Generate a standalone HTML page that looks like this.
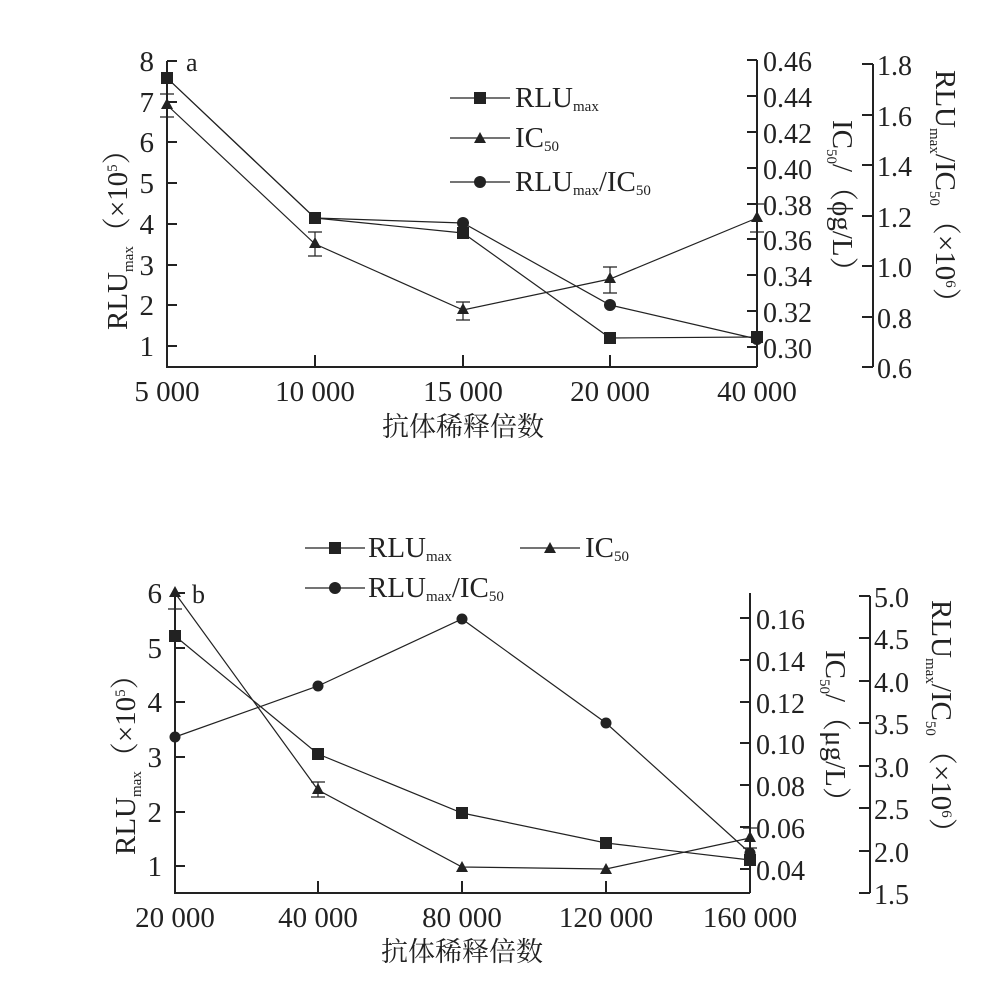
<!DOCTYPE html><html><head><meta charset="utf-8"><style>body{margin:0;background:#fff}svg{display:block}text{font-family:"Liberation Serif","Noto Serif CJK SC",serif;fill:#222}</style></head><body>
<svg width="988" height="995" viewBox="0 0 988 995" stroke="#222" fill="none">
<!-- Panel a -->
<g stroke-width="2">
<path d="M167 61V367H757M757 60V367M873 64V367"/>
<path d="M167 61h10M167 102h10M167 142h10M167 183h10M167 224h10M167 265h10M167 305h10M167 346h10"/>
<path d="M315 367v-12M463 367v-12M610 367v-12"/>
<path d="M757 60h-10M757 96h-10M757 132h-10M757 168h-10M757 204h-10M757 239h-10M757 275h-10M757 311h-10M757 347h-10"/>
<path d="M873 64h-11M873 115h-11M873 165h-11M873 216h-11M873 266h-11M873 317h-11M873 367h-11"/>
</g>
<g stroke-width="1.2">
<polyline points="167,78 315,218 463,233 610,338 757,337"/>
<polyline points="167,105 315,244 463,310 610,279 757,218"/>
<polyline points="167,78 315,218 463,223 610,305 757,339"/>
<path d="M160 94h14M160 117h14M167 94v23M308 232h14M308 256h14M315 232v24M456 302h14M456 320h14M463 302v18M603 267h14M603 293h14M610 267v26M750 204h14M750 232h14"/>
<path d="M450 98h60M450 138h60M450 182h60"/>
</g>
<g fill="#222" stroke="none">
<rect x="161" y="72" width="12" height="12"/><rect x="309" y="212" width="12" height="12"/><rect x="457" y="227" width="12" height="12"/><rect x="604" y="332" width="12" height="12"/><rect x="751" y="331" width="12" height="12"/>
<circle cx="167" cy="78" r="6"/><circle cx="315" cy="218" r="6"/><circle cx="463" cy="223" r="6"/><circle cx="610" cy="305" r="6"/><circle cx="757" cy="339" r="6"/>
<path d="M167 98l6 11h-12zM315 237l6 11h-12zM463 303l6 11h-12zM610 272l6 11h-12zM757 211l6 11h-12z"/>
<rect x="474" y="92" width="12" height="12"/><path d="M480 132l6 11h-12z"/><circle cx="480" cy="182" r="6"/>
</g>
<g font-size="29" stroke="none">
<text x="154" y="71" text-anchor="end">8</text><text x="154" y="112" text-anchor="end">7</text><text x="154" y="152" text-anchor="end">6</text><text x="154" y="193" text-anchor="end">5</text><text x="154" y="234" text-anchor="end">4</text><text x="154" y="275" text-anchor="end">3</text><text x="154" y="315" text-anchor="end">2</text><text x="154" y="356" text-anchor="end">1</text>
<text x="186" y="71" font-size="26">a</text>
<text x="167" y="401" text-anchor="middle">5 000</text><text x="315" y="401" text-anchor="middle">10 000</text><text x="463" y="401" text-anchor="middle">15 000</text><text x="610" y="401" text-anchor="middle">20 000</text><text x="757" y="401" text-anchor="middle">40 000</text>
<text x="463" y="436" text-anchor="middle" font-size="27">抗体稀释倍数</text>
<g font-size="28"><text x="763" y="71">0.46</text><text x="763" y="107">0.44</text><text x="763" y="143">0.42</text><text x="763" y="179">0.40</text><text x="763" y="215">0.38</text><text x="763" y="250">0.36</text><text x="763" y="286">0.34</text><text x="763" y="322">0.32</text><text x="763" y="358">0.30</text></g>
<g font-size="28"><text x="877" y="75">1.8</text><text x="877" y="126">1.6</text><text x="877" y="176">1.4</text><text x="877" y="227">1.2</text><text x="877" y="277">1.0</text><text x="877" y="328">0.8</text><text x="877" y="378">0.6</text></g>
<text x="515" y="107">RLU<tspan font-size="15" dy="4">max</tspan></text>
<text x="515" y="147">IC<tspan font-size="15" dy="4">50</tspan></text>
<text x="515" y="191">RLU<tspan font-size="15" dy="4">max</tspan><tspan dy="-4">/IC</tspan><tspan font-size="15" dy="4">50</tspan></text>
<text transform="translate(127,330) rotate(-90)">RLU<tspan font-size="15" dy="6">max</tspan><tspan dy="-6">（×10</tspan><tspan font-size="15" dy="-10">5</tspan><tspan dy="10">）</tspan></text>
<text transform="translate(833,120) rotate(90)">IC<tspan font-size="15" dy="6">50</tspan><tspan dy="-6">/（ϕg/L）</tspan></text>
<text transform="translate(936,70) rotate(90)">RLU<tspan font-size="15" dy="6">max</tspan><tspan dy="-6">/IC</tspan><tspan font-size="15" dy="6">50</tspan><tspan dy="-6">（×10</tspan><tspan font-size="15" dy="-10">6</tspan><tspan dy="10">）</tspan></text>
</g>
<!-- Panel b -->
<g stroke-width="2">
<path d="M175 593V893H750M750 593V893M870 596V893"/>
<path d="M175 593h10M175 648h10M175 702h10M175 757h10M175 812h10M175 866h10"/>
<path d="M318 893v-12M462 893v-12M606 893v-12"/>
<path d="M750 618h-10M750 660h-10M750 702h-10M750 743h-10M750 785h-10M750 827h-10M750 869h-10"/>
<path d="M870 596h-11M870 638h-11M870 681h-11M870 723h-11M870 766h-11M870 808h-11M870 851h-11M870 893h-11"/>
</g>
<g stroke-width="1.2">
<polyline points="175,636 318,754 462,813 606,843 750,860"/>
<polyline points="175,593 318,790 462,867 606,869 750,838"/>
<polyline points="175,737 318,686 462,619 606,723 750,853"/>
<path d="M168 609h14M175 609v-2M311 782h14M311 797h14M318 782v15M743 828h14M743 848h14M750 828v20"/>
<path d="M305 548h60M520 548h60M305 588h60"/>
</g>
<g fill="#222" stroke="none">
<rect x="169" y="630" width="12" height="12"/><rect x="312" y="748" width="12" height="12"/><rect x="456" y="807" width="12" height="12"/><rect x="600" y="837" width="12" height="12"/><rect x="744" y="854" width="12" height="12"/>
<circle cx="175" cy="737" r="5.5"/><circle cx="318" cy="686" r="5.5"/><circle cx="462" cy="619" r="5.5"/><circle cx="606" cy="723" r="5.5"/><circle cx="750" cy="853" r="5.5"/>
<path d="M175 586l6 11h-12zM318 783l6 11h-12zM462 861l6 11h-12zM606 863l6 11h-12zM750 831l6 11h-12z"/>
<rect x="329" y="542" width="12" height="12"/><path d="M550 542l6 11h-12z"/><circle cx="335" cy="588" r="6"/>
</g>
<g font-size="29" stroke="none">
<text x="162" y="603" text-anchor="end">6</text><text x="162" y="658" text-anchor="end">5</text><text x="162" y="712" text-anchor="end">4</text><text x="162" y="767" text-anchor="end">3</text><text x="162" y="822" text-anchor="end">2</text><text x="162" y="876" text-anchor="end">1</text>
<text x="192" y="603" font-size="26">b</text>
<text x="175" y="927" text-anchor="middle">20 000</text><text x="318" y="927" text-anchor="middle">40 000</text><text x="462" y="927" text-anchor="middle">80 000</text><text x="606" y="927" text-anchor="middle">120 000</text><text x="750" y="927" text-anchor="middle">160 000</text>
<text x="462" y="961" text-anchor="middle" font-size="27">抗体稀释倍数</text>
<g font-size="28"><text x="756" y="629">0.16</text><text x="756" y="671">0.14</text><text x="756" y="713">0.12</text><text x="756" y="754">0.10</text><text x="756" y="796">0.08</text><text x="756" y="838">0.06</text><text x="756" y="880">0.04</text></g>
<g font-size="28"><text x="874" y="607">5.0</text><text x="874" y="649">4.5</text><text x="874" y="692">4.0</text><text x="874" y="734">3.5</text><text x="874" y="777">3.0</text><text x="874" y="819">2.5</text><text x="874" y="862">2.0</text><text x="874" y="904">1.5</text></g>
<text x="368" y="557">RLU<tspan font-size="15" dy="4">max</tspan></text>
<text x="585" y="557">IC<tspan font-size="15" dy="4">50</tspan></text>
<text x="368" y="597">RLU<tspan font-size="15" dy="4">max</tspan><tspan dy="-4">/IC</tspan><tspan font-size="15" dy="4">50</tspan></text>
<text transform="translate(135,855) rotate(-90)">RLU<tspan font-size="15" dy="6">max</tspan><tspan dy="-6">（×10</tspan><tspan font-size="15" dy="-10">5</tspan><tspan dy="10">）</tspan></text>
<text transform="translate(826,650) rotate(90)">IC<tspan font-size="15" dy="6">50</tspan><tspan dy="-6">/（μg/L）</tspan></text>
<text transform="translate(932,600) rotate(90)">RLU<tspan font-size="15" dy="6">max</tspan><tspan dy="-6">/IC</tspan><tspan font-size="15" dy="6">50</tspan><tspan dy="-6">（×10</tspan><tspan font-size="15" dy="-10">6</tspan><tspan dy="10">）</tspan></text>
</g>
</svg></body></html>
